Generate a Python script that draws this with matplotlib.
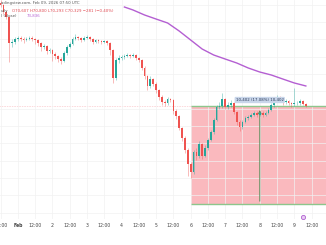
import matplotlib.pyplot as plt
from matplotlib.patches import Rectangle

# --- data (2h candles, Jan 31 12:00 -> Feb 9 06:00) ---------------------------
first_open = 85250
closes = [84930, 83920, 83200, 79460, 79600, 80030, 80180, 80100, 79890, 80030,
          80180, 80030, 79950, 79460, 78880, 79030, 78310, 78450, 77870, 77590,
          77150, 76870, 78020, 78880, 79310, 80030, 80320, 80180, 79890, 80180,
          80320, 80030, 79600, 79890, 79750, 79600, 79700, 79460, 78450, 74420,
          77010, 77300, 77440, 77590, 77730, 77590, 77730, 77300, 77010, 75860,
          74710, 73270, 74280, 73550, 72690, 71680, 70960, 70800, 71390, 71250,
          69660, 68950, 67220, 65780, 64050, 62030, 60880, 63770, 63190, 64910,
          63190, 64340, 65490, 66640, 68370, 70240, 70390, 71390, 70240, 70530,
          70820, 69520, 68080, 67360, 68080, 68660, 68800, 69090, 69380, 69090,
          69380, 69090, 69380, 69810, 70530, 71110, 71540, 71250, 70960, 71100,
          70880, 70670, 70750, 70820, 71110, 70610, 70330]
highs = [85600, 85100, 84200, 83300, 80100, 80300, 80500, 80400, 80300, 80350,
         80450, 80400, 80250, 80100, 79600, 79300, 79200, 78800, 78600, 78100,
         77800, 77400, 78300, 79100, 79600, 80300, 80700, 80500, 80300, 80400,
         80600, 80500, 80200, 80100, 80100, 79900, 79950, 79900, 79600, 78600,
         77300, 77800, 77700, 77900, 78000, 77900, 78000, 77900, 77500, 77100,
         76200, 74900, 74700, 74400, 73800, 72900, 71900, 71200, 71700, 71600,
         71400, 69900, 69100, 67400, 66000, 64300, 62300, 64100, 64300, 65300,
         65100, 64700, 65800, 66900, 68700, 70600, 70900, 72250, 71600, 70900,
         71200, 71000, 69700, 68300, 68400, 68900, 69100, 69400, 69700, 69600,
         69700, 69600, 69700, 70100, 70800, 71400, 71900, 71800, 71400, 71400,
         71300, 71000, 73000, 71100, 71400, 71300, 70800]
lows = [84700, 83700, 82900, 76700, 78900, 79300, 79800, 79700, 79500, 79700,
        79900, 79800, 79300, 79000, 78300, 78600, 77900, 78000, 76900, 77200,
        76700, 76400, 76700, 77800, 78700, 79100, 79900, 79900, 79600, 79700,
        80000, 79800, 79300, 79400, 79500, 79300, 79400, 79200, 77800, 73700,
        74200, 76600, 77000, 77200, 77400, 77300, 77400, 77000, 76700, 75500,
        74300, 72700, 73000, 73200, 72300, 71300, 70600, 70400, 70600, 70900,
        69300, 68500, 66900, 65300, 63600, 60300, 60050, 60600, 62600, 62900,
        62800, 63000, 64100, 65300, 66400, 68200, 69900, 70100, 69900, 70000,
        70300, 69200, 67700, 66800, 67100, 67900, 68400, 68600, 68900, 68800,
        68900, 68800, 68900, 69200, 69600, 70300, 70900, 70900, 70600, 70700,
        70500, 70300, 70400, 70500, 70600, 70500, 70290]

ma_idx = [43, 46, 50, 54, 58, 62, 66, 70, 74, 78, 82, 86, 90, 94, 98, 102, 106]
ma_vals = [84640, 84210, 83490, 82910, 82340, 81190, 79890, 78590, 77730, 77150,
           76580, 75860, 75280, 74850, 74270, 73700, 73270]

tick_idx = list(range(0, 109, 6))
tick_labels = ["12:00", "Feb", "12:00", "2", "12:00", "3", "12:00", "4", "12:00", "5",
               "12:00", "6", "12:00", "7", "12:00", "8", "12:00", "9", "12:00"]

box_start = 66
box_top = 70400
box_bottom = 56280
measure_idx = 90
last_price = 70330

UP, DOWN = "#26a69a", "#ef5350"

# --- figure ---------------------------------------------------------------------
fig = plt.figure(figsize=(3.26, 2.45), dpi=100)
ax = fig.add_axes([0, 26 / 245, 1, 219 / 245])
ax.set_xlim(-0.2, 113.0)
ax.set_ylim(54114, 85650)
for s in ax.spines.values():
    s.set_visible(False)

ax.set_xticks(tick_idx)
ax.set_xticklabels(tick_labels)
for lbl in ax.get_xticklabels():
    if lbl.get_text() == "Feb":
        lbl.set_fontweight("bold")
ax.set_yticks(range(55000, 86000, 2500))
ax.set_yticklabels([])
ax.tick_params(length=0, labelsize=3.3, colors="#444444", pad=3)
ax.grid(color="#f1f1f1", lw=0.5, zorder=0)

# short position box + measure
ax.add_patch(Rectangle((box_start, box_bottom), 120, box_top - box_bottom,
                       fc="#fab9be", ec="none", zorder=1))
ax.hlines([box_top, box_bottom], box_start, 113, colors="#8cc68c", lw=1.0, zorder=2)
ax.annotate("", xy=(measure_idx, 70200), xytext=(measure_idx, box_bottom),
            arrowprops=dict(arrowstyle="->", color="#5d8f5d", lw=0.7, mutation_scale=5),
            zorder=2)

ax.axhline(last_price, color="#f23645", lw=0.4, ls=(0, (1, 2)), alpha=0.6, zorder=1.5)

# candles
opens = [first_open] + closes[:-1]
idx = list(range(len(closes)))
cols = [UP if c >= o else DOWN for o, c in zip(opens, closes)]
ax.vlines(idx, lows, highs, colors=cols, lw=0.5, alpha=0.55, zorder=3)
ax.bar(idx, [max(abs(c - o), 60) for o, c in zip(opens, closes)],
       bottom=[min(o, c) for o, c in zip(opens, closes)],
       width=0.6, color=cols, linewidth=0, zorder=4)

ax.plot(ma_idx, ma_vals, color="#b45fd2", lw=1.0, zorder=5)

ax.text(measure_idx, 71250, "10,402 (17.08%) 10,402", fontsize=2.8, ha="center",
        va="center", color="#2a3a5a", zorder=6,
        bbox=dict(boxstyle="round,pad=0.3", fc="#c9d6ea", ec="none"))

ax.plot(105.0, 54402, marker="o", ms=3, mfc="#e8cdf2", mec="#b060d0", mew=0.6,
        clip_on=False, zorder=6)

# header
def px(x, y):
    return x / 326, 1 - y / 245

fig.text(*px(1, 3), "adingview.com, Feb 09, 2026 07:50 UTC", fontsize=2.8,
         color="#555555", va="center")
fig.text(*px(1, 11), "urly", fontsize=2.8, color="#555555", va="center")
fig.text(*px(12, 11), "O70,607 H70,800 L70,293 C70,329 \u2212281 (\u22120.40%)",
         fontsize=2.8, color="#e04850", va="center")
fig.text(*px(1, 16), "l (close)", fontsize=2.8, color="#555555", va="center")
fig.text(*px(27, 16), "73,836", fontsize=2.8, color="#b45fd2", va="center")

fig.savefig("out.png", dpi=100)
